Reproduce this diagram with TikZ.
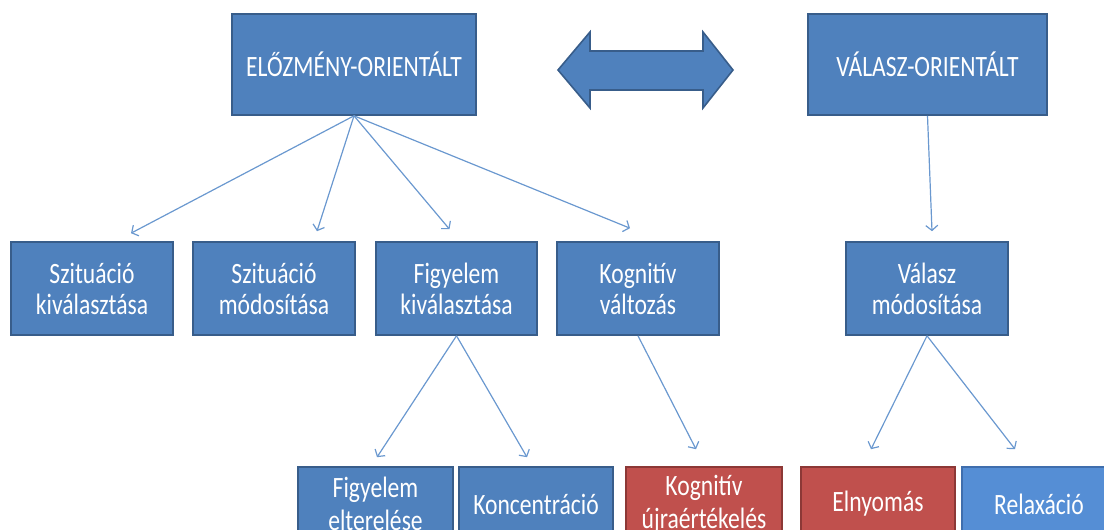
\documentclass[tikz,border=0pt]{standalone}
\usepackage{fontspec}
\setmainfont{Carlito}
\usepackage{graphicx}
\usetikzlibrary{arrows.meta,calc}
\definecolor{boxblue}{HTML}{4F81BD}
\definecolor{boxedge}{HTML}{385D8A}
\definecolor{boxred}{HTML}{C0504D}
\definecolor{rededge}{HTML}{8C3836}
\definecolor{lightblue}{HTML}{558ED5}
\definecolor{lightedge}{HTML}{3F6EAD}
\definecolor{conn}{HTML}{6A98CF}
\newcommand{\sq}[1]{\scalebox{0.80}[1]{#1}}
\tikzset{
  box/.style={draw=boxedge, line width=1.6pt, fill=boxblue, text=white,
    inner sep=0pt, align=center, font=\fontsize{29.5}{31}\selectfont},
  redbox/.style={box, draw=rededge, fill=boxred},
  relbox/.style={box, draw=lightedge, fill=lightblue},
  lowbox/.style={font=\fontsize{29.5}{33}\selectfont},
  conn/.style={draw=conn, line width=1.2pt,
    -{Straight Barb[length=5pt,width=12pt,line width=1.2pt]}},
  bigarrow/.style={draw=boxedge, line width=1.6pt, fill=boxblue, line join=miter}
}
\begin{document}
\begin{tikzpicture}[x=1pt,y=-1pt]
\useasboundingbox (0,0) rectangle (1104,530);
\clip (0,0) rectangle (1104,530);
% top row
\node[box, minimum width=244pt, minimum height=101pt] (el) at (354,64.5) {\sq{ELŐZMÉNY-ORIENTÁLT}};
\node[box, minimum width=239pt, minimum height=101pt] (va) at (927.5,64.5) {\sq{VÁLASZ-ORIENTÁLT}};
% double arrow
\draw[bigarrow] (558,70) -- (590,32) -- (590,51) -- (703,51) -- (703,32) -- (733,70)
  -- (703,108) -- (703,90) -- (590,90) -- (590,108) -- cycle;
% second row
\node[box, minimum width=162pt, minimum height=93pt] (skiv) at (92,288.5) {\sq{Szituáció}\\\sq{kiválasztása}};
\node[box, minimum width=162pt, minimum height=93pt] (smod) at (274,288.5) {\sq{Szituáció}\\\sq{módosítása}};
\node[box, minimum width=161pt, minimum height=93pt] (fkiv) at (456.5,288.5) {\sq{Figyelem}\\\sq{kiválasztása}};
\node[box, minimum width=162pt, minimum height=93pt] (kval) at (638,288.5) {\sq{Kognitív}\\\sq{változás}};
\node[box, minimum width=162pt, minimum height=93pt] (vmod) at (927,288.5) {\sq{Válasz}\\\sq{módosítása}};
% bottom row
\node[box, lowbox, minimum width=155pt, minimum height=74pt] (fel) at (375.5,504) {\sq{Figyelem}\\\sq{elterelése}};
\node[box, lowbox, minimum width=154pt, minimum height=74pt] (konc) at (536,504) {\sq{Koncentráció}};
\node[redbox, lowbox, minimum width=156pt, minimum height=74pt] (kuj) at (704,504) {\sq{Kognitív}\\\sq{újraértékelés}};
\node[redbox, lowbox, minimum width=154pt, minimum height=74pt] (eln) at (878,504) {\sq{Elnyomás}};
\node[relbox, lowbox, minimum width=154pt, minimum height=74pt] (rel) at (1039,504) {\sq{Relaxáció}};
% connectors
\draw[conn] (el.south) -- ($(skiv.north)+(39,-8)$);
\draw[conn] (el.south) -- ($(smod.north)+(43,-10)$);
\draw[conn] (el.south) -- ($(fkiv.north)+(-7,-12)$);
\draw[conn] (el.south) -- ($(kval.north)+(-8,-13)$);
\draw[conn] (va.south) -- ($(vmod.north)+(5,-10)$);
\draw[conn] (fkiv.south) -- ($(fel.north)+(1.5,-9)$);
\draw[conn] (fkiv.south) -- ($(konc.north)+(-9,-9)$);
\draw[conn] (kval.south) -- ($(kuj.north)+(-8,-17)$);
\draw[conn] (vmod.south) -- ($(eln.north)+(-7,-17)$);
\draw[conn] (vmod.south) -- ($(rel.north)+(-24,-17)$);
\end{tikzpicture}
\end{document}
